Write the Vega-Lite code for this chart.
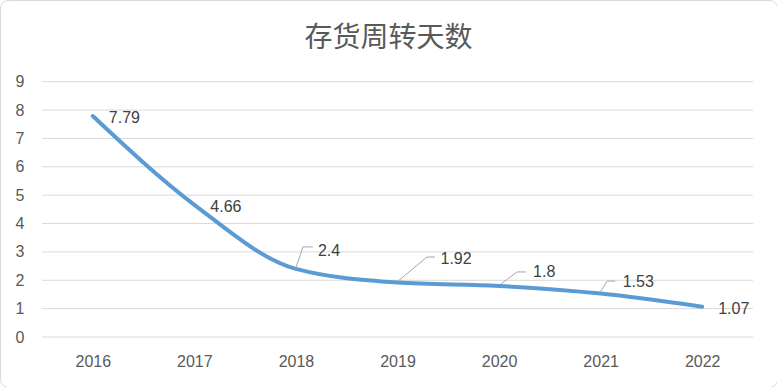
{
  "$schema": "https://vega.github.io/schema/vega-lite/v6.json",
  "width": 777,
  "height": 387,
  "autosize": "none",
  "padding": 0,
  "background": "white",
  "config": {
    "view": {"stroke": "#D9D9D9", "strokeWidth": 1, "cornerRadius": 8},
    "axis": {"labelFont": "Liberation Sans", "labelFontSize": 16, "labelColor": "#595959", "domain": false, "ticks": false, "grid": false, "title": null}
  },
  "title": {"text": "存货周转天数", "font": "Noto Sans CJK SC", "fontSize": 28, "fontWeight": "normal", "color": "#595959", "anchor": "middle", "baseline": "middle", "offset": -67},
  "datasets": {
    "series": [
      {"year": 2016, "value": 7.79},
      {"year": 2017, "value": 4.66},
      {"year": 2018, "value": 2.4},
      {"year": 2019, "value": 1.92},
      {"year": 2020, "value": 1.8},
      {"year": 2021, "value": 1.53},
      {"year": 2022, "value": 1.07}
    ],
    "gridvalues": [
      {"g": 0}, {"g": 1}, {"g": 2}, {"g": 3}, {"g": 4}, {"g": 5}, {"g": 6}, {"g": 7}, {"g": 8}, {"g": 9}
    ]
  },
  "layer": [
    {
      "data": {"name": "gridvalues"},
      "mark": {"type": "rule", "stroke": "#D9D9D9", "strokeWidth": 1},
      "encoding": {
        "x": {"datum": 2015.5, "type": "quantitative", "scale": {"domain": [2015.0865, 2022.7363], "zero": false, "nice": false}},
        "x2": {"datum": 2022.5},
        "y": {"field": "g", "type": "quantitative", "scale": {"domain": [-1.7626, 11.88], "zero": false, "nice": false}}
      }
    },
    {
      "data": {"name": "series"},
      "encoding": {
        "x": {"field": "year", "type": "quantitative", "scale": {"domain": [2015.0865, 2022.7363], "zero": false, "nice": false},
          "axis": {"orient": "bottom", "offset": -50, "values": [2016, 2017, 2018, 2019, 2020, 2021, 2022], "format": "d", "labelPadding": 16}},
        "y": {"field": "value", "type": "quantitative", "scale": {"domain": [-1.7626, 11.88], "zero": false, "nice": false},
          "axis": {"orient": "left", "offset": -42, "values": [0, 1, 2, 3, 4, 5, 6, 7, 8, 9], "labelPadding": 18}}
      },
      "layer": [
        {
          "mark": {"type": "line", "interpolate": "monotone", "stroke": "#5B9BD5", "strokeWidth": 4, "strokeCap": "round"}
        },
        {
          "transform": [{"filter": "datum.year == 2016 || datum.year == 2017 || datum.year == 2022"}],
          "mark": {"type": "text", "align": "left", "baseline": "middle", "dx": 16, "dy": 2, "font": "Liberation Sans", "fontSize": 16, "color": "#404040"},
          "encoding": {"text": {"field": "value", "type": "quantitative"}}
        },
        {
          "transform": [{"filter": "datum.year == 2018"}],
          "layer": [
            {"mark": {"type": "rule", "stroke": "#A6A6A6", "strokeWidth": 1, "yOffset": -1, "x2Offset": 7, "y2Offset": -22},
             "encoding": {"x2": {"field": "year"}, "y2": {"field": "value"}}},
            {"mark": {"type": "rule", "stroke": "#A6A6A6", "strokeWidth": 1, "xOffset": 7, "yOffset": -22, "x2Offset": 17, "y2Offset": -22},
             "encoding": {"x2": {"field": "year"}, "y2": {"field": "value"}}},
            {"mark": {"type": "text", "align": "left", "baseline": "middle", "dx": 22, "dy": -18, "font": "Liberation Sans", "fontSize": 16, "color": "#404040"},
             "encoding": {"text": {"field": "value", "type": "quantitative"}}}
          ]
        },
        {
          "transform": [{"filter": "datum.year == 2019"}],
          "layer": [
            {"mark": {"type": "rule", "stroke": "#A6A6A6", "strokeWidth": 1, "yOffset": -1, "x2Offset": 29.5, "y2Offset": -25.5},
             "encoding": {"x2": {"field": "year"}, "y2": {"field": "value"}}},
            {"mark": {"type": "rule", "stroke": "#A6A6A6", "strokeWidth": 1, "xOffset": 29.5, "yOffset": -25.5, "x2Offset": 37.5, "y2Offset": -25.5},
             "encoding": {"x2": {"field": "year"}, "y2": {"field": "value"}}},
            {"mark": {"type": "text", "align": "left", "baseline": "middle", "dx": 43, "dy": -24, "font": "Liberation Sans", "fontSize": 16, "color": "#404040"},
             "encoding": {"text": {"field": "value", "type": "quantitative"}}}
          ]
        },
        {
          "transform": [{"filter": "datum.year == 2020"}],
          "layer": [
            {"mark": {"type": "rule", "stroke": "#A6A6A6", "strokeWidth": 1, "xOffset": 2, "yOffset": -2, "x2Offset": 18, "y2Offset": -14},
             "encoding": {"x2": {"field": "year"}, "y2": {"field": "value"}}},
            {"mark": {"type": "rule", "stroke": "#A6A6A6", "strokeWidth": 1, "xOffset": 18, "yOffset": -14, "x2Offset": 27, "y2Offset": -14},
             "encoding": {"x2": {"field": "year"}, "y2": {"field": "value"}}},
            {"mark": {"type": "text", "align": "left", "baseline": "middle", "dx": 34, "dy": -14, "font": "Liberation Sans", "fontSize": 16, "color": "#404040"},
             "encoding": {"text": {"field": "value", "type": "quantitative"}}}
          ]
        },
        {
          "transform": [{"filter": "datum.year == 2021"}],
          "layer": [
            {"mark": {"type": "rule", "stroke": "#A6A6A6", "strokeWidth": 1, "yOffset": -2, "x2Offset": 6.5, "y2Offset": -12.5},
             "encoding": {"x2": {"field": "year"}, "y2": {"field": "value"}}},
            {"mark": {"type": "rule", "stroke": "#A6A6A6", "strokeWidth": 1, "xOffset": 6.5, "yOffset": -12.5, "x2Offset": 14.5, "y2Offset": -12.5},
             "encoding": {"x2": {"field": "year"}, "y2": {"field": "value"}}},
            {"mark": {"type": "text", "align": "left", "baseline": "middle", "dx": 22, "dy": -12, "font": "Liberation Sans", "fontSize": 16, "color": "#404040"},
             "encoding": {"text": {"field": "value", "type": "quantitative"}}}
          ]
        }
      ]
    }
  ]
}
